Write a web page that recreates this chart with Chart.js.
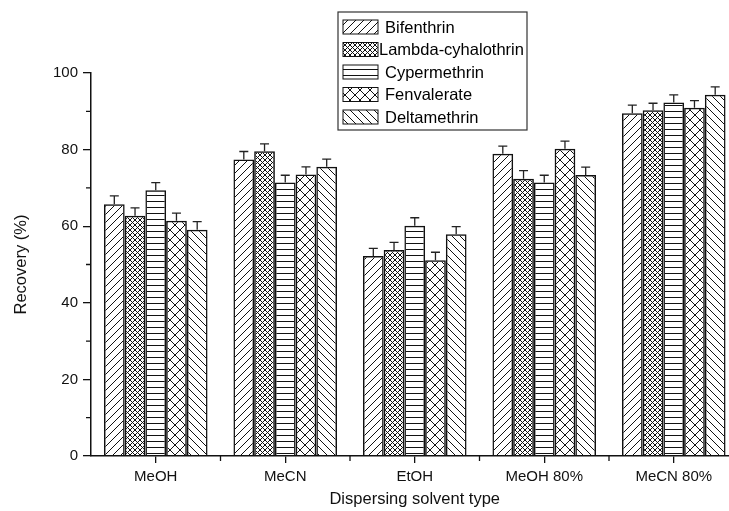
<!DOCTYPE html>
<html>
<head>
<meta charset="utf-8">
<title>Recovery by dispersing solvent</title>
<script src="https://cdn.jsdelivr.net/npm/chart.js@4.4.1/dist/chart.umd.min.js"></script>
<style>
    html, body { margin: 0; padding: 0; background: #fff; overflow: hidden; }
    #wrap { position: relative; width: 745px; height: 511px; }
</style>
</head>
<body>
<div id="wrap"><canvas id="recoveryChart"></canvas></div>
<script>
// --- data ---
var categories = ['MeOH', 'MeCN', 'EtOH', 'MeOH 80%', 'MeCN 80%'];
var seriesNames = ['Bifenthrin', 'Lambda-cyhalothrin', 'Cypermethrin', 'Fenvalerate', 'Deltamethrin'];

var bifenthrin   = [65.7, 77.4, 52.2, 78.9, 89.5];
var lambdaCyhalo = [62.7, 79.6, 53.8, 72.4, 90.3];
var cypermethrin = [69.4, 71.4, 60.1, 71.4, 92.3];
var fenvalerate  = [61.4, 73.5, 51.1, 80.2, 90.9];
var deltamethrin = [59.1, 75.5, 57.9, 73.4, 94.3];

var bifenthrinErr   = [2.2, 2.1, 2.0, 2.0, 2.1];
var lambdaCyhaloErr = [2.1, 1.9, 2.0, 2.1, 1.8];
var cypermethrinErr = [2.0, 1.9, 2.1, 1.9, 2.0];
var fenvalerateErr  = [2.0, 2.0, 2.1, 2.0, 1.9];
var deltamethrinErr = [2.1, 2.0, 2.0, 2.0, 2.1];

var yTicks = [0, 20, 40, 60, 80, 100];
var yMinorTicks = [10, 30, 50, 70, 90];

var FONT = "'Liberation Sans', Arial, Helvetica, sans-serif";

// --- hatch patterns ---
function makePattern(size, drawFn) {
    var c = document.createElement('canvas');
    c.width = size; c.height = size;
    var g = c.getContext('2d');
    g.strokeStyle = '#111';
    g.lineWidth = 1;
    drawFn(g, size);
    return g.createPattern(c, 'repeat');
}
function fwd(g, s) {
    g.beginPath();
    for (var k = -1; k <= 1; k++) { g.moveTo(k * s, s); g.lineTo(k * s + s, 0); }
    g.stroke();
}
function back(g, s) {
    g.beginPath();
    for (var k = -1; k <= 1; k++) { g.moveTo(k * s, 0); g.lineTo(k * s + s, s); }
    g.stroke();
}
var patterns = [
    makePattern(8, fwd),
    makePattern(5, function (g, s) { fwd(g, s); back(g, s); }),
    makePattern(6, function (g, s) {
        g.beginPath(); g.moveTo(0, 3.5); g.lineTo(s, 3.5); g.stroke();
    }),
    makePattern(10, function (g, s) { fwd(g, s); back(g, s); }),
    makePattern(8, back)
];

var values = [bifenthrin, lambdaCyhalo, cypermethrin, fenvalerate, deltamethrin];
var errors = [bifenthrinErr, lambdaCyhaloErr, cypermethrinErr, fenvalerateErr, deltamethrinErr];

var datasets = seriesNames.map(function (name, i) {
    return {
        label: name,
        data: values[i],
        errors: errors[i],
        backgroundColor: patterns[i],
        borderColor: '#111',
        borderWidth: 1.5,
        categoryPercentage: 0.8,
        barPercentage: 1.0
    };
});

// --- error bars (drawn through the y scale) ---
var errorBars = {
    id: 'errorBars',
    afterDatasetsDraw: function (chart) {
        var ctx = chart.ctx, y = chart.scales.y;
        ctx.save();
        ctx.strokeStyle = '#222';
        ctx.lineWidth = 1.3;
        chart.data.datasets.forEach(function (ds, di) {
            chart.getDatasetMeta(di).data.forEach(function (bar, i) {
                var top = y.getPixelForValue(ds.data[i]);
                var hi = y.getPixelForValue(ds.data[i] + ds.errors[i]);
                ctx.beginPath();
                ctx.moveTo(bar.x, top); ctx.lineTo(bar.x, hi);
                ctx.moveTo(bar.x - 4.5, hi); ctx.lineTo(bar.x + 4.5, hi);
                ctx.stroke();
            });
        });
        ctx.restore();
    }
};

// --- minor ticks on both axes ---
var minorTicks = {
    id: 'minorTicks',
    afterDraw: function (chart) {
        var ctx = chart.ctx, x = chart.scales.x, y = chart.scales.y, a = chart.chartArea;
        ctx.save();
        ctx.strokeStyle = '#111';
        ctx.lineWidth = 1.3;
        ctx.beginPath();
        yMinorTicks.forEach(function (v) {
            var py = y.getPixelForValue(v);
            ctx.moveTo(a.left - 5, py); ctx.lineTo(a.left, py);
        });
        for (var i = 0; i < categories.length - 1; i++) {
            var px = (x.getPixelForValue(i) + x.getPixelForValue(i + 1)) / 2;
            ctx.moveTo(px, a.bottom); ctx.lineTo(px, a.bottom + 5);
        }
        ctx.stroke();
        ctx.restore();
    }
};

// --- boxed legend inside the plot ---
var boxLegend = {
    id: 'boxLegend',
    afterDraw: function (chart) {
        var ctx = chart.ctx;
        var bx = 338, by = 12, bw = 189, bh = 118;
        ctx.save();
        ctx.fillStyle = '#fff';
        ctx.fillRect(bx, by, bw, bh);
        ctx.strokeStyle = '#333';
        ctx.lineWidth = 1.2;
        ctx.strokeRect(bx, by, bw, bh);
        ctx.font = '16.5px ' + FONT;
        ctx.textBaseline = 'middle';
        chart.data.datasets.forEach(function (ds, i) {
            var cy = by + 15 + i * 22.5;
            ctx.fillStyle = ds.backgroundColor;
            ctx.fillRect(343, cy - 7, 35, 14);
            ctx.strokeStyle = '#111';
            ctx.lineWidth = 1;
            ctx.strokeRect(343, cy - 7, 35, 14);
            ctx.fillStyle = '#000';
            ctx.fillText(ds.label, i === 1 ? 379 : 385, cy + 1);
        });
        ctx.restore();
    }
};

new Chart(document.getElementById('recoveryChart').getContext('2d'), {
    type: 'bar',
    data: { labels: categories, datasets: datasets },
    plugins: [errorBars, minorTicks, boxLegend],
    options: {
        responsive: true,
        maintainAspectRatio: false,
        animation: false,
        layout: { padding: { top: 73, right: 6.5, left: 0, bottom: 0 } },
        plugins: { legend: { display: false }, tooltip: { enabled: false } },
        scales: {
            x: {
                offset: true,
                grid: { offset: false, drawOnChartArea: false, drawTicks: true, tickLength: 7, color: '#111', lineWidth: 1.3 },
                border: { display: true, color: '#111', width: 1.5 },
                ticks: { color: '#111', padding: 5, font: { family: FONT, size: 15 } },
                title: { display: true, text: 'Dispersing solvent type', color: '#111', font: { family: FONT, size: 16.5 }, padding: { top: 4, bottom: 2 } },
                afterFit: function (s) { s.height = 55; }
            },
            y: {
                min: 0,
                max: 100,
                afterBuildTicks: function (s) { s.ticks = yTicks.map(function (v) { return { value: v }; }); },
                grid: { drawOnChartArea: false, drawTicks: true, tickLength: 8, color: '#111', lineWidth: 1.3 },
                border: { display: true, color: '#111', width: 1.5 },
                ticks: { color: '#111', padding: 5, font: { family: FONT, size: 15 } },
                title: { display: true, text: 'Recovery (%)', color: '#111', font: { family: FONT, size: 16.5 }, padding: { top: 12, bottom: 4 } },
                afterFit: function (s) { s.width = 91; }
            }
        }
    }
});
</script>
</body>
</html>
